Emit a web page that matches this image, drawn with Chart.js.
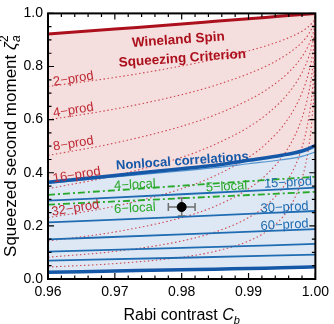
<!DOCTYPE html>
<html>
<head>
<meta charset="utf-8">
<title>Squeezed second moment vs Rabi contrast</title>
<script src="https://cdn.jsdelivr.net/npm/chart.js"></script>
<style>
  body { margin: 0; background: #fff; }
  #wrap { width: 334px; height: 324px; }
</style>
</head>
<body>
<div id="wrap"><canvas id="chart"></canvas></div>
<script>
  // axis ticks
  const xTicks = [0.96, 0.97, 0.98, 0.99, 1.00];
  const yTicks = [0.0, 0.2, 0.4, 0.6, 0.8, 1.0];

  // k-producible entanglement bounds (red dotted), sampled in Rabi contrast
  const contrastProd = [0.96, 0.97, 0.98, 0.985, 0.99, 0.993, 0.996, 0.998, 0.999, 0.9995, 0.9999, 1.0];
  const prod2   = [0.725, 0.759, 0.802, 0.828, 0.859, 0.881, 0.908, 0.933, 0.951, 0.964, 0.983, 1.0];
  const prod4   = [0.599, 0.640, 0.694, 0.729, 0.773, 0.806, 0.850, 0.891, 0.922, 0.947, 0.976, 1.0];
  const prod8   = [0.465, 0.512, 0.575, 0.618, 0.674, 0.718, 0.778, 0.837, 0.881, 0.915, 0.961, 1.0];
  const prod16  = [0.340, 0.389, 0.458, 0.507, 0.572, 0.626, 0.701, 0.777, 0.836, 0.881, 0.945, 1.0];
  const prod32  = [0.231, 0.274, 0.340, 0.389, 0.458, 0.518, 0.606, 0.701, 0.777, 0.836, 0.923, 1.0];
  const prod64  = [0.143, 0.177, 0.231, 0.274, 0.340, 0.401, 0.496, 0.606, 0.701, 0.777, 0.893, 1.0];
  const prod128 = [0.082, 0.104, 0.143, 0.177, 0.231, 0.285, 0.378, 0.496, 0.606, 0.701, 0.852, 1.0];
  const prod256 = [0.045, 0.058, 0.082, 0.104, 0.143, 0.185, 0.264, 0.378, 0.496, 0.606, 0.798, 1.0];

  // region boundaries
  const contrastBound = [0.96, 0.97, 0.98, 0.985, 0.99, 0.995, 0.998, 1.0];
  const wineland   = [0.922, 0.941, 0.960, 0.970, 0.980, 0.990, 0.996, 1.0];
  const nonlocal   = [0.364, 0.390, 0.415, 0.428, 0.447, 0.466, 0.482, 0.502];
  const innerBound = [0.360, 0.384, 0.407, 0.419, 0.434, 0.449, 0.462, 0.478];
  const bottomLine = [0.025, 0.030, 0.035, 0.037, 0.040, 0.042, 0.044, 0.046];

  // Bell-correlation depth (blue) and k-local (green) lines
  const contrastLin = [0.96, 0.98, 1.0];
  const bell15 = [0.295, 0.319, 0.344];
  const bell30 = [0.213, 0.234, 0.256];
  const bell60 = [0.149, 0.168, 0.188];
  const bellD  = [0.103, 0.117, 0.132];
  const bellE  = [0.069, 0.080, 0.092];
  const local4 = [0.317, 0.351, 0.385];
  const local6 = [0.280, 0.304, 0.328];

  // measured point
  const pointC = [0.980];
  const pointZeta = [0.271];
  const pointCErr = [0.002];
  const pointZetaErr = [0.034];

  const FONT = "'Liberation Sans', Arial, sans-serif";
  const RED = 'rgb(172,16,28)';
  const DOT = 'rgb(205,72,82)';
  const BLUE = 'rgb(22,88,168)';
  const BLUE2 = 'rgb(32,108,178)';
  const GREEN = 'rgb(40,168,40)';

  const labels = [
    { t: 'Wineland Spin', x: 0.9795, y: 0.900, rot: -4, c: RED, f: 'bold 13.5px ' + FONT },
    { t: 'Squeezing Criterion', x: 0.9801, y: 0.830, rot: -4, c: RED, f: 'bold 13.5px ' + FONT },
    { t: 'Nonlocal correlations', x: 0.9801, y: 0.443, rot: -4, c: BLUE, f: 'bold 13px ' + FONT },
    { t: '2\u2212prod', x: 0.9638, y: 0.753, rot: -9, c: 'rgb(190,40,50)', f: '13px ' + FONT },
    { t: '4\u2212prod', x: 0.9638, y: 0.635, rot: -9, c: 'rgb(190,40,50)', f: '13px ' + FONT },
    { t: '8\u2212prod', x: 0.9638, y: 0.509, rot: -9, c: 'rgb(190,40,50)', f: '13px ' + FONT },
    { t: '16\u2212prod', x: 0.9643, y: 0.391, rot: -9, c: 'rgb(190,40,50)', f: '13px ' + FONT },
    { t: '32\u2212prod', x: 0.9641, y: 0.266, rot: -9, c: 'rgb(190,40,50)', f: '13px ' + FONT },
    { t: '4\u2212local', x: 0.9730, y: 0.354, rot: -3, c: GREEN, f: '13px ' + FONT },
    { t: '6\u2212local', x: 0.9730, y: 0.266, rot: -3, c: GREEN, f: '13px ' + FONT },
    { t: '5\u2212local', x: 0.9867, y: 0.347, rot: -3, c: GREEN, f: '13px ' + FONT },
    { t: '15\u2212prod', x: 0.9959, y: 0.362, rot: -3, c: BLUE2, f: '13px ' + FONT },
    { t: '30\u2212prod', x: 0.9954, y: 0.269, rot: -3, c: BLUE2, f: '13px ' + FONT },
    { t: '60\u2212prod', x: 0.9954, y: 0.203, rot: -3, c: BLUE2, f: '13px ' + FONT }
  ];

  function pts(xs, ys) {
    return xs.map((x, i) => ({ x: x, y: ys[i] }));
  }
  function curve(xs, ys, color, width, dash, extra) {
    return Object.assign({
      data: pts(xs, ys),
      borderColor: color,
      borderWidth: width,
      borderDash: dash || [],
      pointRadius: 0,
      fill: false,
      cubicInterpolationMode: 'monotone'
    }, extra || {});
  }

  const datasets = [
    { type: 'scatter', data: pts(pointC, pointZeta), pointRadius: 4.5,
      backgroundColor: '#000', borderColor: '#000', showLine: false },
    curve(contrastBound, wineland, RED, 3, null,
      { fill: { target: '+1', above: 'rgb(245,222,222)', below: 'rgb(245,222,222)' } }),
    curve(contrastBound, nonlocal, BLUE, 3.5, null,
      { fill: { target: '+1', above: 'rgb(221,232,244)', below: 'rgb(221,232,244)' } }),
    curve(contrastBound, bottomLine, BLUE, 3.5),
    curve(contrastBound, innerBound, 'rgb(85,148,206)', 1.2),
    curve(contrastLin, bell15, BLUE2, 1.8),
    curve(contrastLin, bell30, BLUE2, 1.8),
    curve(contrastLin, bell60, BLUE2, 1.8),
    curve(contrastLin, bellD, BLUE2, 1.8),
    curve(contrastLin, bellE, BLUE2, 1.8),
    curve(contrastLin, local4, GREEN, 1.8, [7, 3, 2, 3]),
    curve(contrastLin, local6, GREEN, 1.8, [7, 3, 2, 3]),
    curve(contrastProd, prod2, DOT, 1.1, [1.5, 2.5]),
    curve(contrastProd, prod4, DOT, 1.1, [1.5, 2.5]),
    curve(contrastProd, prod8, DOT, 1.1, [1.5, 2.5]),
    curve(contrastProd, prod16, DOT, 1.1, [1.5, 2.5]),
    curve(contrastProd, prod32, DOT, 1.1, [1.5, 2.5]),
    curve(contrastProd, prod64, DOT, 1.1, [1.5, 2.5]),
    curve(contrastProd, prod128, DOT, 1.1, [1.5, 2.5]),
    curve(contrastProd, prod256, DOT, 1.1, [1.5, 2.5])
  ];

  function drawRich(ctx, parts, cx, baseY) {
    // measure
    let w = 0, subStart = 0;
    parts.forEach(p => {
      ctx.font = p.f;
      const pw = ctx.measureText(p.t).width;
      if (p.over) { w = Math.max(w, subStart + pw); }
      else { subStart = w; w += pw; }
    });
    let xPos = cx - w / 2;
    let last = xPos;
    parts.forEach(p => {
      ctx.font = p.f;
      const pw = ctx.measureText(p.t).width;
      if (p.over) { ctx.fillText(p.t, last, baseY + (p.dy || 0)); }
      else { last = xPos; ctx.fillText(p.t, xPos, baseY + (p.dy || 0)); xPos += pw; }
    });
  }

  const decor = {
    id: 'decor',
    beforeDatasetsDraw(chart) {
      const { ctx, scales: { x, y } } = chart;
      ctx.save();
      ctx.strokeStyle = 'rgb(110,110,110)';
      ctx.lineWidth = 1.5;
      pointC.forEach((c, i) => {
        const px = x.getPixelForValue(c), py = y.getPixelForValue(pointZeta[i]);
        const x0 = x.getPixelForValue(c - pointCErr[i]), x1 = x.getPixelForValue(c + pointCErr[i]);
        const y0 = y.getPixelForValue(pointZeta[i] - pointZetaErr[i]);
        const y1 = y.getPixelForValue(pointZeta[i] + pointZetaErr[i]);
        ctx.beginPath();
        ctx.moveTo(x0, py); ctx.lineTo(x1, py);
        ctx.moveTo(x0, py - 4); ctx.lineTo(x0, py + 4);
        ctx.moveTo(x1, py - 4); ctx.lineTo(x1, py + 4);
        ctx.moveTo(px, y0); ctx.lineTo(px, y1);
        ctx.moveTo(px - 4, y0); ctx.lineTo(px + 4, y0);
        ctx.moveTo(px - 4, y1); ctx.lineTo(px + 4, y1);
        ctx.stroke();
      });
      ctx.restore();
    },
    afterDatasetsDraw(chart) {
      const { ctx, chartArea: a, scales: { x, y } } = chart;
      ctx.save();
      // text labels
      ctx.textAlign = 'center';
      ctx.textBaseline = 'middle';
      labels.forEach(l => {
        ctx.save();
        ctx.translate(x.getPixelForValue(l.x), y.getPixelForValue(l.y));
        ctx.rotate(l.rot * Math.PI / 180);
        ctx.font = l.f;
        ctx.fillStyle = l.c;
        ctx.fillText(l.t, 0, 0);
        ctx.restore();
      });
      // frame
      ctx.strokeStyle = '#000';
      ctx.lineWidth = 2;
      ctx.strokeRect(a.left, a.top, a.right - a.left, a.bottom - a.top);
      // inward ticks on all sides
      ctx.lineWidth = 1.2;
      ctx.beginPath();
      for (let k = 0; k <= 20; k++) {
        const v = 0.96 + k * 0.002;
        const len = k % 5 === 0 ? 6 : 3.5;
        const px = x.getPixelForValue(v);
        ctx.moveTo(px, a.bottom); ctx.lineTo(px, a.bottom - len);
        ctx.moveTo(px, a.top); ctx.lineTo(px, a.top + len);
      }
      for (let k = 0; k <= 20; k++) {
        const v = k * 0.05;
        const len = k % 4 === 0 ? 6 : 3.5;
        const py = y.getPixelForValue(v);
        ctx.moveTo(a.left, py); ctx.lineTo(a.left + len, py);
        ctx.moveTo(a.right, py); ctx.lineTo(a.right - len, py);
      }
      ctx.stroke();
      ctx.restore();
    },
    afterDraw(chart) {
      const { ctx, chartArea: a } = chart;
      ctx.save();
      ctx.fillStyle = '#000';
      ctx.textAlign = 'left';
      ctx.textBaseline = 'alphabetic';
      // x title
      drawRich(ctx, [
        { t: 'Rabi contrast ', f: '16px ' + FONT },
        { t: 'C', f: 'italic 16px ' + FONT },
        { t: 'b', f: 'italic 11px ' + FONT, dy: 4 }
      ], (a.left + a.right) / 2, 320);
      // y title
      ctx.translate(15.5, (a.top + a.bottom) / 2);
      ctx.rotate(-Math.PI / 2);
      drawRich(ctx, [
        { t: 'Squeezed second moment ', f: '17px ' + FONT },
        { t: '\u03B6', f: 'italic 17px ' + FONT },
        { t: 'a', f: 'italic 12px ' + FONT, dy: 4 },
        { t: '2', f: '12px ' + FONT, dy: -8, over: true }
      ], 0, 0);
      ctx.restore();
    }
  };

  new Chart(document.getElementById('chart'), {
    type: 'line',
    data: { datasets: datasets },
    options: {
      responsive: true,
      maintainAspectRatio: false,
      animation: false,
      devicePixelRatio: 1,
      layout: { padding: { top: 8, right: 15, left: 0, bottom: 0 } },
      plugins: {
        legend: { display: false },
        tooltip: { enabled: false },
        filler: { drawTime: 'beforeDatasetsDraw' }
      },
      scales: {
        x: {
          type: 'linear', min: 0.96, max: 1.0,
          grid: { display: false, drawTicks: false },
          border: { display: false },
          afterBuildTicks: s => { s.ticks = xTicks.map(v => ({ value: v })); },
          afterFit: s => { s.height = 45; },
          ticks: { font: { family: FONT, size: 14 }, color: '#000', padding: 5,
                   maxRotation: 0, callback: v => v.toFixed(2) }
        },
        y: {
          type: 'linear', min: 0, max: 1,
          grid: { display: false, drawTicks: false },
          border: { display: false },
          afterBuildTicks: s => { s.ticks = yTicks.map(v => ({ value: v })); },
          afterFit: s => { s.width = 48; },
          ticks: { font: { family: FONT, size: 14 }, color: '#000', padding: 5,
                   callback: v => v.toFixed(1) }
        }
      }
    },
    plugins: [decor]
  });
</script>
</body>
</html>
